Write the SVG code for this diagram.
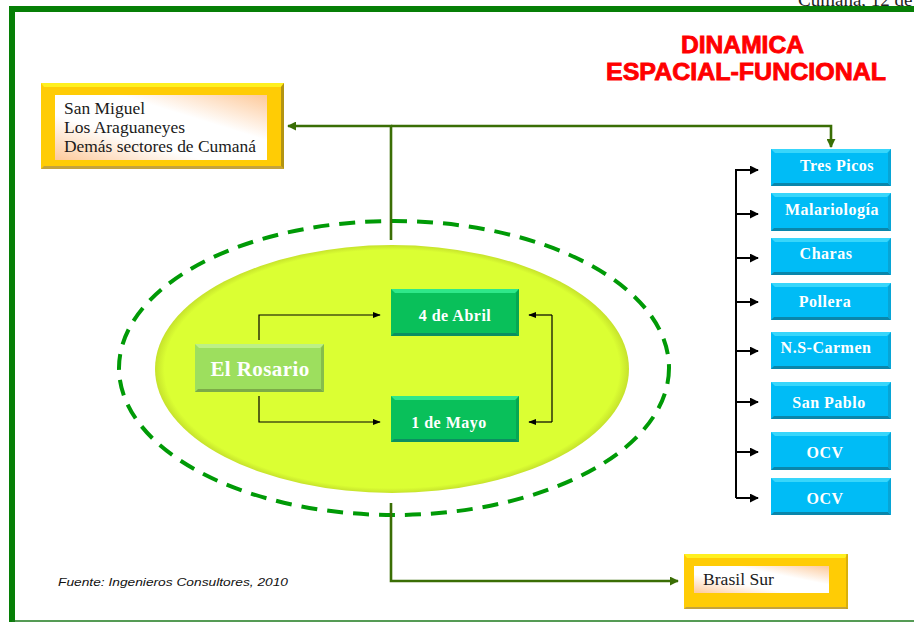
<svg xmlns="http://www.w3.org/2000/svg" width="914" height="622" viewBox="0 0 914 622">
<style>
text{font-family:"Liberation Serif","Times New Roman",serif}
.b{font-weight:bold;fill:#fff;text-anchor:middle;font-size:16px;letter-spacing:.5px}
.d{font-size:16.5px;fill:#1a1a1a}
.t{font-family:"Liberation Sans",Arial,sans-serif;font-weight:bold;font-size:23px;fill:#f00;stroke:#f00;stroke-width:.8}
.dk{fill:none;stroke:#3a6e05;stroke-width:2.6}
.bk{fill:none;stroke:#000;stroke-width:2}
.th{fill:none;stroke:#000;stroke-width:1.2}
.blue{fill:#00bcf6}.bt{fill:#38d6fb}.bb{fill:#0a86ab}.bs{fill:#07a5d6}
.gr{fill:#09c05a}.gt{fill:#2fe88a}.gb{fill:#0b8f60}.gs{fill:#07a652}
.lg{fill:#9ddf5e}.lt{fill:#bdf085}.lb{fill:#7cab48}.ls{fill:#86bd4c}
.yl{fill:#ffcc05}.yt{fill:#fff01f}.yb{fill:#c4a33c}.ys{fill:#b39412}
</style>
<defs>
<linearGradient id="peach" x1="0" y1="1" x2="1" y2="0">
<stop offset="0" stop-color="#fdc99a"/><stop offset=".35" stop-color="#fff"/><stop offset=".65" stop-color="#fff"/><stop offset="1" stop-color="#fdc99a"/>
</linearGradient>
<radialGradient id="lime" cx=".5" cy=".5" r=".5">
<stop offset=".96" stop-color="#dbff33"/><stop offset="1" stop-color="#c6e22c"/>
</radialGradient>
<marker id="ag" viewBox="0 0 10 10" refX="9" refY="5" markerWidth="9" markerHeight="9" orient="auto" markerUnits="userSpaceOnUse"><path d="M0 0L10 5L0 10z" fill="#3a6e05"/></marker>
<marker id="ak" viewBox="0 0 10 10" refX="9" refY="5" markerWidth="8" markerHeight="8" orient="auto" markerUnits="userSpaceOnUse"><path d="M0 1L10 5L0 9z" fill="#000"/></marker>
<marker id="as" viewBox="0 0 10 10" refX="9" refY="5" markerWidth="9" markerHeight="9" orient="auto" markerUnits="userSpaceOnUse"><path d="M0 0L10 5L0 10z" fill="#000"/></marker>
</defs>
<rect width="914" height="622" fill="#fff"/>
<text x="798" y="6" font-size="19" fill="#222">Cumaná, 12 de</text>
<g id="frame"><path d="M12 622V9H914" fill="none" stroke="#067f06" stroke-width="6"/><path d="M12 621H914" stroke="#1c7a1c" stroke-width="1.5"/></g>
<g id="title"><text class="t" x="681" y="53" textLength="123" lengthAdjust="spacingAndGlyphs">DINAMICA</text><text class="t" x="606" y="80" textLength="280" lengthAdjust="spacingAndGlyphs">ESPACIAL-FUNCIONAL</text></g>
<g id="ellipse-region"><ellipse cx="392" cy="369" rx="237" ry="124" fill="url(#lime)"/><ellipse cx="394" cy="368" rx="275" ry="147" fill="none" stroke="#009a06" stroke-width="4" stroke-dasharray="16 10"/></g>
<g id="connectors">
<path class="dk" d="M391 240V126H288" marker-end="url(#ag)"/>
<path class="dk" d="M391 126H831V147" marker-end="url(#ag)"/>
<path class="dk" d="M391 503V581H678" marker-end="url(#ag)"/>
<path class="bk" d="M758 170H736V498"/>
<path class="bk" d="M736 170H758" marker-end="url(#as)"/>
<path class="bk" d="M736 214H758" marker-end="url(#as)"/>
<path class="bk" d="M736 258H758" marker-end="url(#as)"/>
<path class="bk" d="M736 302H758" marker-end="url(#as)"/>
<path class="bk" d="M736 351H758" marker-end="url(#as)"/>
<path class="bk" d="M736 402H758" marker-end="url(#as)"/>
<path class="bk" d="M736 452H758" marker-end="url(#as)"/>
<path class="bk" d="M736 498H758" marker-end="url(#as)"/>
<path class="th" d="M259 340V315H380" marker-end="url(#ak)"/>
<path class="th" d="M259 396V422H380" marker-end="url(#ak)"/>
<path class="th" d="M552 315H529" marker-end="url(#ak)"/>
<path class="th" d="M552 422H529" marker-end="url(#ak)"/>
<path class="th" d="M552 315V422"/>
</g>
<g id="san-miguel">
<rect class="yl" x="41" y="83" width="243" height="86"/><polygon class="yt" points="41,83 284,83 281,87 44,87"/><polygon class="yb" points="41,169 284,169 281,166 44,166"/><polygon class="ys" points="284,83 284,169 281,166 281,87"/>
<rect x="55" y="95" width="212" height="65" fill="url(#peach)"/>
<text class="d" x="64" y="114" textLength="81" lengthAdjust="spacingAndGlyphs">San Miguel</text><text class="d" x="64" y="133" textLength="121" lengthAdjust="spacingAndGlyphs">Los Araguaneyes</text><text class="d" x="64" y="152" textLength="192" lengthAdjust="spacingAndGlyphs">Demás sectores de Cumaná</text>
</g>
<g id="brasil-sur">
<rect class="yl" x="684" y="554" width="164" height="55"/><polygon class="yt" points="684,554 848,554 845,558 687,558"/><polygon class="yb" points="684,609 848,609 846,607 686,607"/><rect class="ys" x="846" y="554" width="2" height="55" opacity=".5"/>
<rect x="694" y="566" width="135" height="27" fill="url(#peach)"/>
<text class="d" x="703" y="585" textLength="71" lengthAdjust="spacingAndGlyphs">Brasil Sur</text>
</g>
<g id="el-rosario"><rect class="lg" x="195" y="344" width="129" height="48"/><polygon class="lt" points="195,344 324,344 320,348 199,348"/><polygon class="lb" points="195,392 324,392 321,389 198,389"/><polygon class="ls" points="324,344 324,392 321,389 321,348"/><text class="b" x="260" y="376" style="font-size:21px;letter-spacing:.4px">El Rosario</text></g>
<g id="abril"><rect class="gr" x="391" y="289" width="128" height="47"/><polygon class="gt" points="391,289 519,289 515,293 395,293"/><polygon class="gb" points="391,336 519,336 516,333 394,333"/><polygon class="gs" points="519,289 519,336 516,333 516,293"/><text class="b" x="455" y="321">4 de Abril</text></g>
<g id="mayo"><rect class="gr" x="391" y="396" width="128" height="46"/><polygon class="gt" points="391,396 519,396 515,400 395,400"/><polygon class="gb" points="391,442 519,442 516,439 394,439"/><polygon class="gs" points="519,396 519,442 516,439 516,400"/><text class="b" x="449" y="428">1 de Mayo</text></g>
<g id="tres-picos"><rect class="blue" x="771" y="149" width="120" height="37"/><polygon class="bt" points="771,149 891,149 887,153 775,153"/><polygon class="bb" points="771,186 891,186 888,183 774,183"/><polygon class="bs" points="891,149 891,186 888,183 888,153"/><text class="b" x="837" y="171">Tres Picos</text></g>
<g id="malariologia"><rect class="blue" x="771" y="193" width="120" height="38"/><polygon class="bt" points="771,193 891,193 887,197 775,197"/><polygon class="bb" points="771,231 891,231 888,228 774,228"/><polygon class="bs" points="891,193 891,231 888,228 888,197"/><text class="b" x="832" y="215">Malariología</text></g>
<g id="charas"><rect class="blue" x="771" y="238" width="120" height="37"/><polygon class="bt" points="771,238 891,238 887,242 775,242"/><polygon class="bb" points="771,275 891,275 888,272 774,272"/><polygon class="bs" points="891,238 891,275 888,272 888,242"/><text class="b" x="826" y="259">Charas</text></g>
<g id="pollera"><rect class="blue" x="771" y="283" width="120" height="37"/><polygon class="bt" points="771,283 891,283 887,287 775,287"/><polygon class="bb" points="771,320 891,320 888,317 774,317"/><polygon class="bs" points="891,283 891,320 888,317 888,287"/><text class="b" x="825" y="307">Pollera</text></g>
<g id="ns-carmen"><rect class="blue" x="771" y="332" width="120" height="37"/><polygon class="bt" points="771,332 891,332 887,336 775,336"/><polygon class="bb" points="771,369 891,369 888,366 774,366"/><polygon class="bs" points="891,332 891,369 888,366 888,336"/><text class="b" x="826" y="353">N.S-Carmen</text></g>
<g id="san-pablo"><rect class="blue" x="771" y="382" width="120" height="37"/><polygon class="bt" points="771,382 891,382 887,386 775,386"/><polygon class="bb" points="771,419 891,419 888,416 774,416"/><polygon class="bs" points="891,382 891,419 888,416 888,386"/><text class="b" x="829" y="408">San Pablo</text></g>
<g id="ocv-1"><rect class="blue" x="771" y="432" width="120" height="38"/><polygon class="bt" points="771,432 891,432 887,436 775,436"/><polygon class="bb" points="771,470 891,470 888,467 774,467"/><polygon class="bs" points="891,432 891,470 888,467 888,436"/><text class="b" x="825" y="458">OCV</text></g>
<g id="ocv-2"><rect class="blue" x="771" y="478" width="120" height="37"/><polygon class="bt" points="771,478 891,478 887,482 775,482"/><polygon class="bb" points="771,515 891,515 888,512 774,512"/><polygon class="bs" points="891,478 891,515 888,512 888,482"/><text class="b" x="825" y="504">OCV</text></g>
<text id="fuente" x="58" y="586" font-size="11.5" font-style="italic" fill="#111" textLength="230" lengthAdjust="spacingAndGlyphs" style="font-family:'Liberation Sans',Arial,sans-serif">Fuente: Ingenieros Consultores, 2010</text>
</svg>
